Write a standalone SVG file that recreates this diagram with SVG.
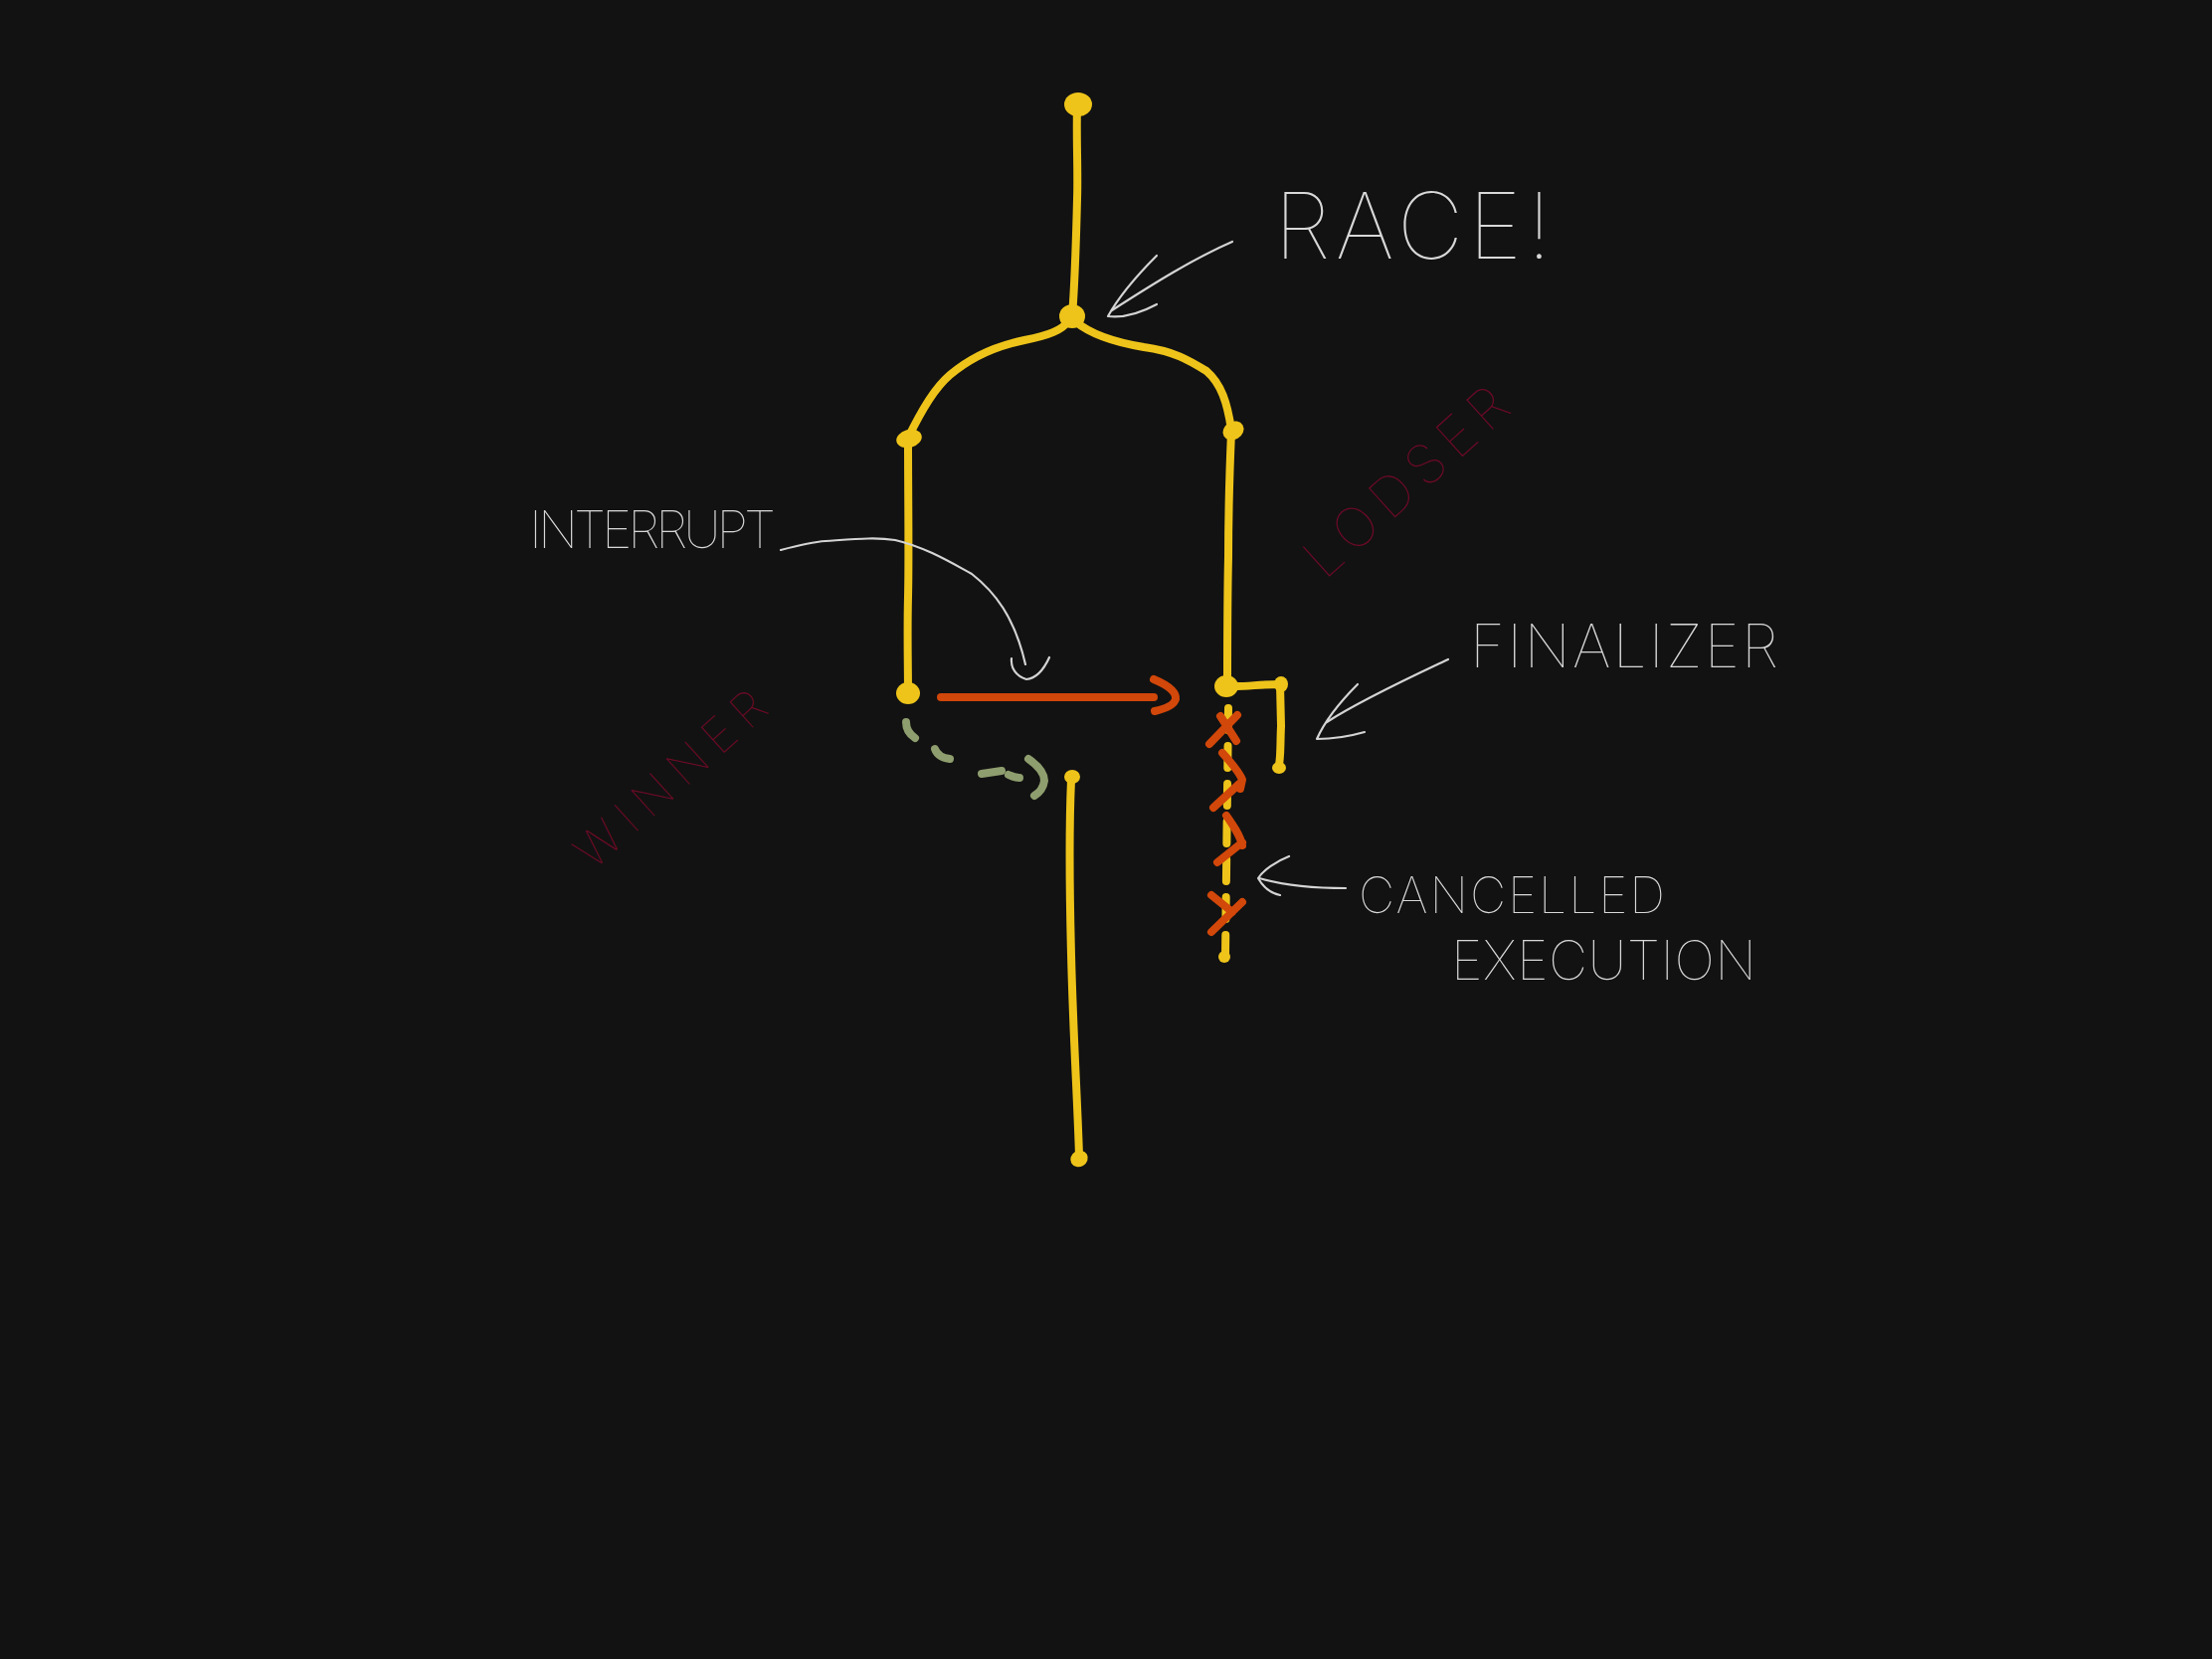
<svg xmlns="http://www.w3.org/2000/svg" width="2224" height="1668" viewBox="0 0 2224 1668">
<style>
.y{fill:none;stroke:#eec41a;stroke-width:8;stroke-linecap:round;stroke-linejoin:round}
.dot{fill:#eec41a}
.o{fill:none;stroke:#d2470a;stroke-width:8;stroke-linecap:round;stroke-linejoin:round}
.g{fill:none;stroke:#8f9e6e;stroke-width:8;stroke-linecap:round}
.w{fill:none;stroke:#d4d4d4;stroke-width:2.2;stroke-linecap:round;stroke-linejoin:round}
.t{fill:#d8d8d8;font-family:Inter,"Liberation Sans",sans-serif;font-weight:100}
.r{fill:#6e0a28;font-family:Inter,"Liberation Sans",sans-serif;font-weight:100}
</style>
<rect width="2224" height="1668" fill="#121212"/>
<g id="connectors">
  <path class="y" d="M1083,106 C1082,140 1084,170 1083,200 C1082,240 1081,280 1078,318"/>
  <path class="y" d="M1075,322 C1068,332 1055,337 1030,342 C1000,348 975,360 955,377 C940,390 928,410 913,440"/>
  <path class="y" d="M1081,323 C1095,335 1120,344 1150,349 C1180,353 1195,362 1213,373 C1228,386 1234,405 1238,432"/>
  <path class="y" d="M913,442 C913,500 914,560 913,600 C912,640 913,670 913,697"/>
  <path class="y" d="M1238,434 C1236,480 1235,520 1235,560 C1234,600 1234,650 1234,690"/>
  <path class="y" d="M1243,690 C1255,690 1270,688 1287,688 L1288,730 C1287,750 1288,765 1285,773"/>
  <path class="y" d="M1235,712 L1232,960" stroke-dasharray="22 16"/>
  <path class="y" d="M1077,784 C1074,850 1076,920 1077,960 C1079,1040 1083,1100 1085,1162"/>
  <path class="o" d="M946,701 L1160,701"/>
  <path class="o" d="M1160,683 C1172,688 1183,695 1182,703 C1180,710 1170,713 1161,715"/>
  <path class="o" d="M1227,720 L1243,745 M1244,719 L1216,748"/>
  <path class="o" d="M1229,757 C1238,767 1246,776 1249,784 L1247,793 M1246,788 L1220,812"/>
  <path class="o" d="M1233,820 C1240,830 1247,840 1249,850 M1249,847 L1224,867"/>
  <path class="o" d="M1218,900 L1239,917 M1249,907 L1218,937"/>
  <path class="g" d="M911,726 C911,733 914,738 920,742"/>
  <path class="g" d="M940,753 C942,759 947,762 955,763"/>
  <path class="g" d="M987,778 C994,777 1000,776 1007,775"/>
  <path class="g" d="M1014,779 C1018,781 1021,782 1025,782"/>
  <path class="g" d="M1034,763 C1044,770 1050,778 1050,785 C1049,792 1045,797 1040,800"/>
  <path class="w" d="M1239,243 C1200,260 1160,285 1118,312"/>
  <path class="w" d="M1163,257 C1145,275 1125,298 1114,318 C1130,320 1148,314 1163,306"/>
  <path class="w" d="M785,553 C800,549 815,545 830,544 C860,542 880,540 900,543 C930,550 955,565 977,577 C1000,595 1020,620 1031,668"/>
  <path class="w" d="M1017,662 C1016,672 1022,680 1032,683 C1042,682 1050,672 1055,661"/>
  <path class="w" d="M1456,663 C1420,680 1370,703 1334,726"/>
  <path class="w" d="M1365,688 C1348,705 1332,725 1324,743 C1340,743 1358,740 1372,736"/>
  <path class="w" d="M1353,893 C1325,893 1295,891 1266,883"/>
  <path class="w" d="M1296,861 C1283,866 1270,875 1265,883 C1270,892 1278,898 1287,900"/>
</g>
<g id="node-start"><ellipse class="dot" cx="1084" cy="105" rx="14" ry="12"/></g>
<g id="node-race"><ellipse class="dot" cx="1078" cy="318" rx="13" ry="12"/></g>
<g id="node-left"><ellipse class="dot" cx="914" cy="441" rx="13" ry="9" transform="rotate(-15 914 441)"/></g>
<g id="node-right"><ellipse class="dot" cx="1240" cy="433" rx="11" ry="9" transform="rotate(-30 1240 433)"/></g>
<g id="node-winner"><ellipse class="dot" cx="913" cy="697" rx="12" ry="11"/></g>
<g id="node-loser"><ellipse class="dot" cx="1233" cy="690" rx="12" ry="11"/></g>
<g id="node-finalizer-start"><ellipse class="dot" cx="1288" cy="688" rx="7" ry="8"/></g>
<g id="node-finalizer-end"><ellipse class="dot" cx="1286" cy="772" rx="7" ry="6"/></g>
<g id="node-cancelled-end"><ellipse class="dot" cx="1231" cy="962" rx="6" ry="6"/></g>
<g id="node-continue"><ellipse class="dot" cx="1078" cy="781" rx="8" ry="7"/></g>
<g id="node-end"><ellipse class="dot" cx="1085" cy="1165" rx="9" ry="8" transform="rotate(-30 1085 1165)"/></g>
<g id="labels">
  <text class="t" x="1281" y="260" font-size="92" textLength="279" lengthAdjust="spacing">RACE!</text>
  <text class="t" x="532" y="551" font-size="52" textLength="248" lengthAdjust="spacing">INTERRUPT</text>
  <text class="t" x="1478" y="671" font-size="60" textLength="310" lengthAdjust="spacing">FINALIZER</text>
  <text class="t" x="1366" y="918" font-size="50" textLength="308" lengthAdjust="spacing">CANCELLED</text>
  <text class="t" x="1459" y="985" font-size="54" textLength="307" lengthAdjust="spacing">EXECUTION</text>
  <text class="r" x="0" y="0" font-size="55" textLength="255" lengthAdjust="spacing" transform="translate(1332 584) rotate(-42)">LODSER</text>
  <text class="r" x="0" y="0" font-size="48" textLength="240" lengthAdjust="spacing" transform="translate(596 876) rotate(-42)">WINNER</text>
</g>
</svg>
